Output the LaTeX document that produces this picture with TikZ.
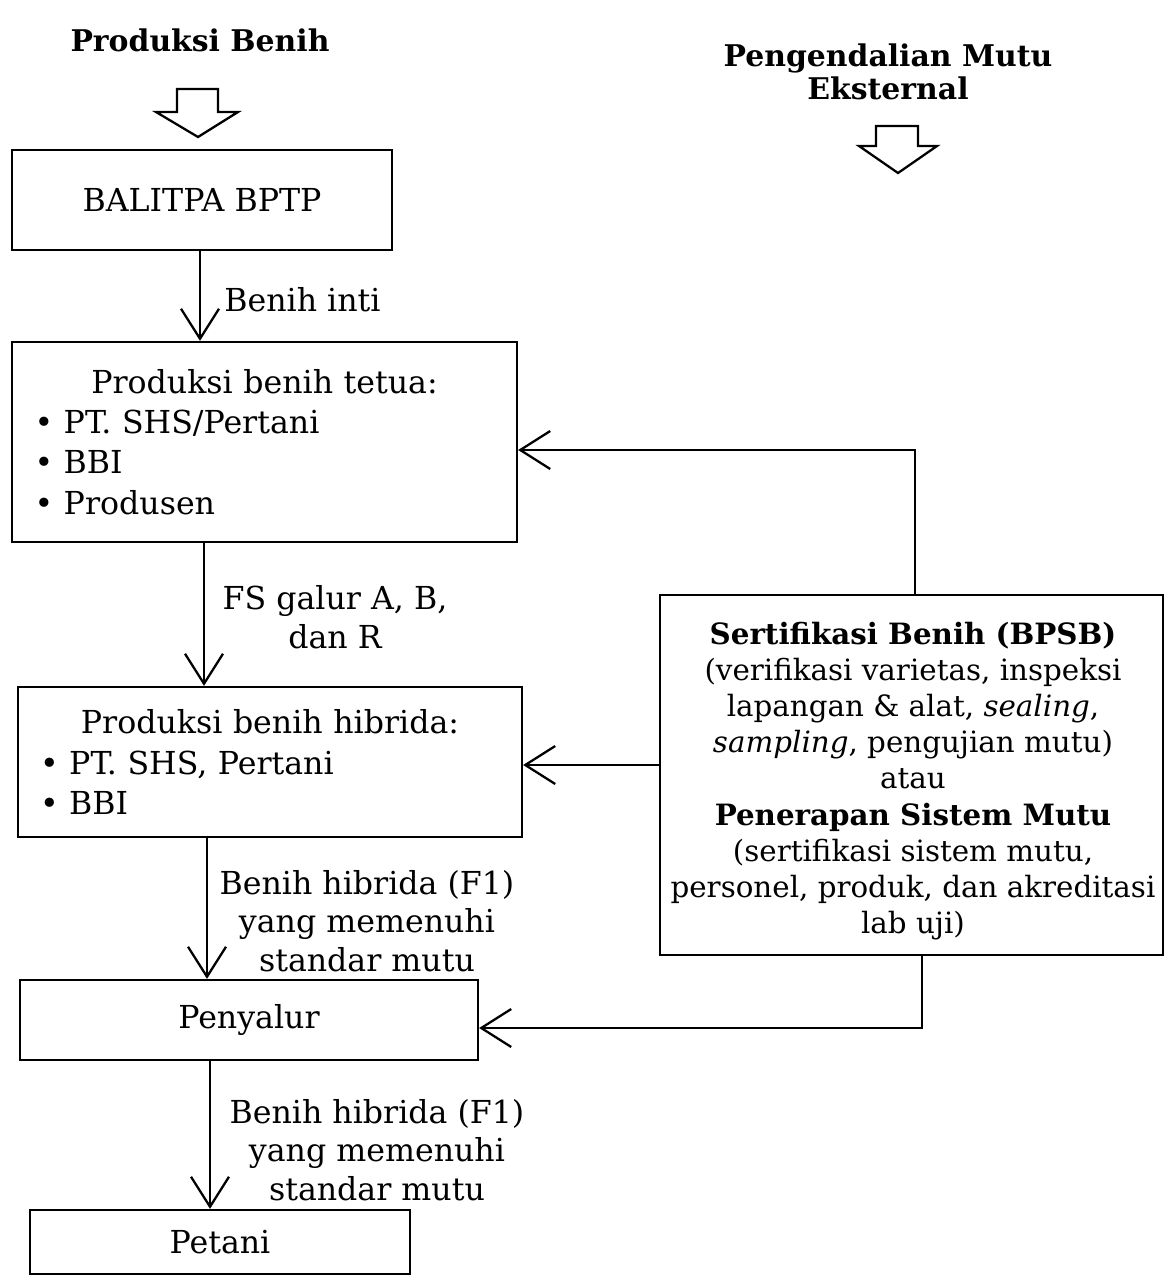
\documentclass[tikz,border=0pt]{standalone}
\usepackage{fontspec}
\setmainfont{DejaVu Serif}
\usetikzlibrary{arrows.meta,calc}
\begin{document}
\begin{tikzpicture}[x=0.02cm,y=-0.02cm,
  box/.style={draw,line width=1.3pt,rectangle,inner sep=0pt,font=\fontsize{18}{23}\selectfont},
  rbox/.style={draw,line width=1.3pt,rectangle,inner sep=0pt},
  rtxt/.style={align=center,inner sep=0pt,font=\fontsize{16.7}{20.6}\selectfont},
  lbl/.style={font=\fontsize{18}{22}\selectfont,align=center,inner sep=0pt},
  ttl/.style={font=\fontsize{17}{19}\selectfont\bfseries,align=center,inner sep=0pt},
  arr/.style={line width=1.3pt,-{Straight Barb[length=0.6cm,width=0.76cm,line width=1.3pt]}},
  hollow/.style={line width=1.3pt,line join=miter}
]
\useasboundingbox (0,0) rectangle (1166,1277);
% titles
\node[ttl] (t1) at (200,40) {Produksi Benih};
\node[ttl] (t2) at (888,72) {Pengendalian Mutu\\Eksternal};
% hollow arrows
\draw[hollow] (177,89) -- (218,89) -- (218,112) -- (238,112) -- (198,137) -- (156,112) -- (177,112) -- cycle;
\draw[hollow] (876,126) -- (918,126) -- (918,146) -- (937,146) -- (898,173) -- (859,146) -- (876,146) -- cycle;
% boxes
\node[box,minimum width=7.6cm,minimum height=2cm] (b1) at (202,200) {BALITPA BPTP};
\node[box,minimum width=10.1cm,minimum height=4cm,text width=9.2cm,align=left] (b2) at (264.5,442)
  {\makebox[9.2cm]{Produksi benih tetua:}\\ \textbullet\ PT. SHS/Pertani\\ \textbullet\ BBI\\ \textbullet\ Produsen};
\node[box,minimum width=10.08cm,minimum height=3cm,text width=9.2cm,align=left] (b3) at (270,762)
  {\makebox[9.2cm]{Produksi benih hibrida:}\\ \textbullet\ PT. SHS, Pertani\\ \textbullet\ BBI};
\node[box,minimum width=9.16cm,minimum height=1.6cm] (b4) at (249,1020) {Penyalur};
\node[box,minimum width=7.6cm,minimum height=1.28cm] (b5) at (220,1242) {Petani};
\node[rbox,minimum width=10.06cm,minimum height=7.2cm] (rb) at (911.5,775) {};
\node[rtxt] (rbt) at (913,781)
  {{\bfseries Sertifikasi Benih (BPSB)}\\ (verifikasi varietas, inspeksi\\ lapangan \& alat, \textit{sealing},\\ \textit{sampling}, pengujian mutu)\\ atau\\ {\bfseries Penerapan Sistem Mutu}\\ (sertifikasi sistem mutu,\\ personel, produk, dan akreditasi\\ lab uji)};
% vertical connectors
\coordinate (v1) at (200,0);
\coordinate (v2) at (204,0);
\coordinate (v3) at (207,0);
\coordinate (v4) at (210,0);
\draw[arr] (b1.south -| v1) -- (b2.north -| v1);
\draw[arr] (b2.south -| v2) -- (b3.north -| v2);
\draw[arr] (b3.south -| v3) -- (b4.north -| v3);
\draw[arr] (b4.south -| v4) -- (b5.north -| v4);
% labels
\node[lbl,anchor=west] (l1) at (224,300) {Benih inti};
\node[lbl] (l2) at (335,617) {FS galur A, B,\\dan R};
\node[lbl] (l3) at (367,921) {Benih hibrida (F1)\\yang memenuhi\\standar mutu};
\node[lbl] (l4) at (377,1150) {Benih hibrida (F1)\\yang memenuhi\\standar mutu};
% feedback connectors
\coordinate (k1) at (915,450);
\coordinate (k2) at (0,765);
\coordinate (k3) at (922,1028);
\draw[arr] (rb.north -| k1) |- (b2.east |- k1);
\draw[arr] (rb.west |- k2) -- (b3.east |- k2);
\draw[arr] (rb.south -| k3) |- (b4.east |- k3);
\end{tikzpicture}
\end{document}
